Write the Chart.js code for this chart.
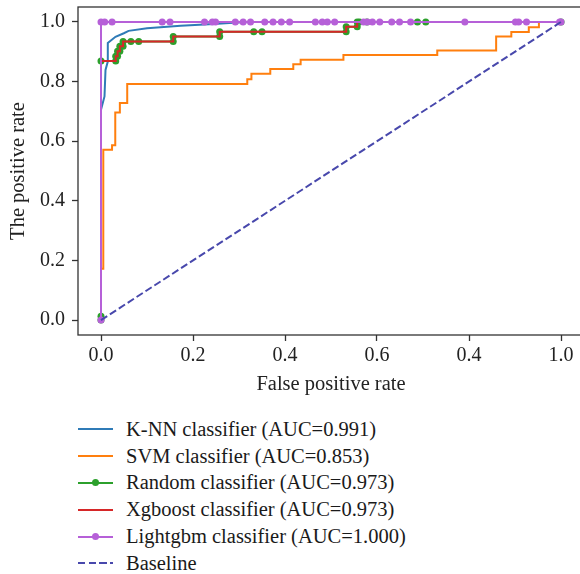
<!DOCTYPE html>
<html>
<head>
<meta charset="utf-8">
<script src="https://cdn.jsdelivr.net/npm/chart.js@4.4.1/dist/chart.umd.min.js"></script>
<style>
  html, body { margin: 0; padding: 0; background: #fff; overflow: hidden; width: 580px; height: 574px; }
  #chart { position: absolute; left: 0; top: 0; }
  #legend { position: absolute; left: 78px; top: 416px; font-family: 'Liberation Serif', 'DejaVu Serif', serif; font-size: 20.5px; color: #1a1a1a; }
  .row { height: 26.8px; display: flex; align-items: center; white-space: nowrap; }
  .sample { position: relative; width: 35px; height: 2px; margin-right: 13px; }
  .dot { position: absolute; left: 14px; top: -2.5px; width: 7px; height: 7px; border-radius: 50%; }
</style>
</head>
<body>
<canvas id="chart" width="600" height="405"></canvas>
<div id="legend"></div>
<script>
// model names and scores
const modelNames = ['K-NN classifier', 'SVM classifier', 'Random classifier', 'Xgboost classifier', 'Lightgbm classifier'];
const aucScores = [0.991, 0.853, 0.973, 0.973, 1.000];

// ROC points
const knnFpr = [0, 0, 0.0076, 0.0098, 0.0148, 0.0148, 0.0315, 0.0496, 0.06, 0.1, 0.173, 0.245, 0.296, 0.325, 1];
const knnTpr = [0, 0.705, 0.75, 0.839, 0.867, 0.929, 0.95, 0.962, 0.970, 0.979, 0.987, 0.993, 0.998, 1, 1];

const svmFpr = [0, 0, 0.005, 0.005, 0.024, 0.024, 0.031, 0.031, 0.041, 0.041, 0.057, 0.057, 0.318, 0.318, 0.327, 0.327, 0.368, 0.368, 0.418, 0.418, 0.434, 0.434, 0.527, 0.527, 0.731, 0.731, 0.859, 0.859, 0.892, 0.892, 0.930, 0.930, 0.952, 0.952, 1];
const svmTpr = [0, 0.172, 0.172, 0.571, 0.571, 0.586, 0.586, 0.696, 0.696, 0.728, 0.728, 0.792, 0.792, 0.808, 0.808, 0.826, 0.826, 0.842, 0.842, 0.858, 0.858, 0.873, 0.873, 0.889, 0.889, 0.904, 0.904, 0.951, 0.951, 0.966, 0.966, 0.982, 0.982, 1, 1];

// Random forest and Xgboost share the same curve
const rfFpr = [0, 0, 0, 0.032, 0.032, 0.036, 0.036, 0.041, 0.041, 0.048, 0.048, 0.065, 0.082, 0.157, 0.157, 0.258, 0.258, 0.332, 0.35, 0.533, 0.533, 0.557, 0.557, 0.562, 0.578, 0.688, 0.706, 1];
const rfTpr = [0, 0.013, 0.869, 0.869, 0.885, 0.885, 0.902, 0.902, 0.918, 0.918, 0.934, 0.934, 0.934, 0.934, 0.951, 0.951, 0.967, 0.967, 0.967, 0.967, 0.984, 0.984, 1, 1, 1, 1, 1, 1];
const xgbFpr = rfFpr.slice();
const xgbTpr = rfTpr.slice();

const lgbFpr = [0, 0, 0.008, 0.024, 0.133, 0.150, 0.225, 0.242, 0.249, 0.292, 0.309, 0.325, 0.356, 0.374, 0.392, 0.410, 0.466, 0.481, 0.492, 0.508, 0.571, 0.579, 0.590, 0.606, 0.632, 0.649, 0.673, 0.791, 0.901, 0.908, 0.925, 0.997, 1];
const lgbTpr = [0, 1, 1, 1, 1, 1, 1, 1, 1, 1, 1, 1, 1, 1, 1, 1, 1, 1, 1, 1, 1, 1, 1, 1, 1, 1, 1, 1, 1, 1, 1, 1, 1];

const baseFpr = [0, 1];
const baseTpr = [0, 1];

const xTickValues = [0, 0.2, 0.4, 0.6, 0.8, 1.0];
const xTickLabels = ['0.0', '0.2', '0.4', '0.6', '0.4', '1.0'];
const yTickValues = [0, 0.2, 0.4, 0.6, 0.8, 1.0];
const yTickLabels = ['0.0', '0.2', '0.4', '0.6', '0.8', '1.0'];

const lineColors = ['#2f7bb7', '#ff7f0e', '#2ca02c', '#d62728', '#b660d8'];
const baseColor = '#4848ac';
const serif = "'Liberation Serif', 'DejaVu Serif', serif";

function toPoints(xs, ys) {
    return xs.map((x, i) => ({ x: x, y: ys[i] }));
}

const curves = [[knnFpr, knnTpr], [svmFpr, svmTpr], [rfFpr, rfTpr], [xgbFpr, xgbTpr], [lgbFpr, lgbTpr]];
const withMarkers = [false, false, true, false, true];

const datasets = curves.map((c, i) => ({
    label: modelNames[i] + ' (AUC=' + aucScores[i].toFixed(3) + ')',
    data: toPoints(c[0], c[1]),
    borderColor: lineColors[i],
    backgroundColor: lineColors[i],
    borderWidth: 2,
    pointRadius: withMarkers[i] ? 3.5 : 0,
    pointBorderWidth: 0,
    pointHoverRadius: 0,
    tension: 0,
    order: 6 - i
}));
datasets.push({
    label: 'Baseline',
    data: toPoints(baseFpr, baseTpr),
    borderColor: baseColor,
    backgroundColor: baseColor,
    borderWidth: 2,
    borderDash: [7.4, 3.2],
    pointRadius: 0,
    order: 0
});

const framePlugin = {
    id: 'frame',
    afterDatasetsDraw(chart) {
        const a = chart.chartArea;
        const ctx = chart.ctx;
        ctx.save();
        ctx.strokeStyle = '#333';
        ctx.lineWidth = 1.3;
        ctx.strokeRect(a.left, a.top, a.right - a.left, a.bottom - a.top);
        ctx.restore();
    }
};

const chart = new Chart(document.getElementById('chart').getContext('2d'), {
    type: 'line',
    data: { datasets: datasets },
    options: {
        responsive: false,
        animation: false,
        events: [],
        layout: { padding: { left: 0, top: 7, right: 16, bottom: 0 } },
        plugins: { legend: { display: false }, tooltip: { enabled: false } },
        scales: {
            x: {
                type: 'linear',
                min: -0.05,
                max: 1.05,
                afterFit(scale) {
                    scale.height = 70;
                    scale.paddingLeft = 0;
                    scale.paddingRight = 0;
                },
                afterBuildTicks(scale) { scale.ticks = xTickValues.map(v => ({ value: v })); },
                ticks: {
                    padding: 3,
                    color: '#222',
                    font: { family: serif, size: 20 },
                    maxRotation: 0,
                    callback: (v, i) => xTickLabels[i]
                },
                grid: { drawOnChartArea: false, drawTicks: true, tickLength: 6, tickWidth: 1.3, tickColor: '#333' },
                border: { display: false },
                title: { display: true, text: 'False positive rate', color: '#222', font: { family: serif, size: 20.5 }, padding: { top: 0, bottom: 8 } }
            },
            y: {
                type: 'linear',
                min: -0.05,
                max: 1.05,
                afterFit(scale) {
                    scale.width = 78;
                    scale.paddingTop = 0;
                    scale.paddingBottom = 0;
                },
                afterBuildTicks(scale) { scale.ticks = yTickValues.map(v => ({ value: v })); },
                ticks: {
                    padding: 7,
                    color: '#222',
                    font: { family: serif, size: 20 },
                    callback: (v, i) => yTickLabels[i]
                },
                grid: { drawOnChartArea: false, drawTicks: true, tickLength: 6, tickWidth: 1.3, tickColor: '#333' },
                border: { display: false },
                title: { display: true, text: 'The positive rate', color: '#222', font: { family: serif, size: 20.5 }, padding: { top: 6, bottom: 0 } }
            }
        }
    },
    plugins: [framePlugin]
});

// legend in the page, one row per dataset
const legend = document.getElementById('legend');
chart.data.datasets.forEach(ds => {
    const row = document.createElement('div');
    row.className = 'row';
    const sample = document.createElement('div');
    sample.className = 'sample';
    if (ds.borderDash) {
        sample.style.background = 'repeating-linear-gradient(to right, ' + ds.borderColor + ' 0 7.4px, transparent 7.4px 10.6px)';
    } else {
        sample.style.background = ds.borderColor;
    }
    if (ds.pointRadius > 0) {
        const dot = document.createElement('div');
        dot.className = 'dot';
        dot.style.background = ds.borderColor;
        sample.appendChild(dot);
    }
    const text = document.createElement('span');
    text.textContent = ds.label;
    row.appendChild(sample);
    row.appendChild(text);
    legend.appendChild(row);
});
</script>
</body>
</html>
